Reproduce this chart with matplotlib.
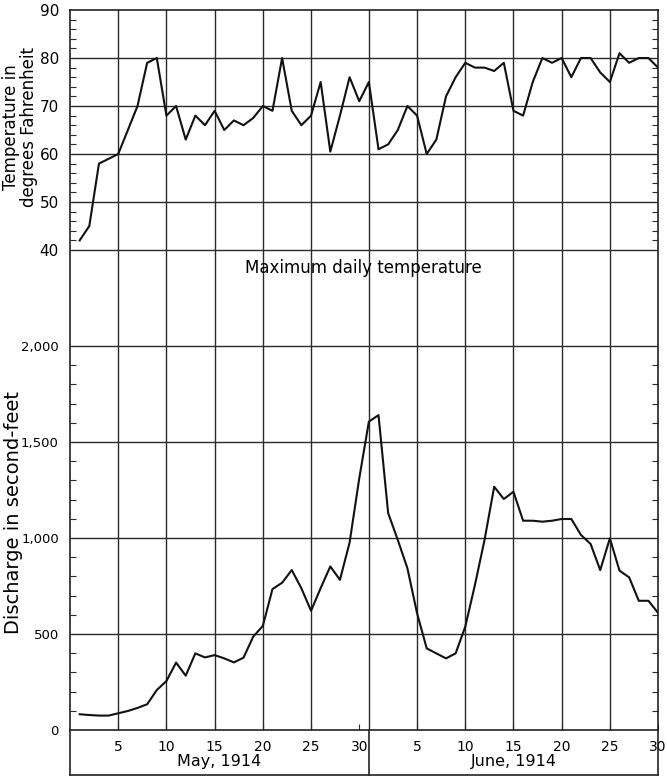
import numpy as np
import matplotlib.pyplot as plt

plt.rcParams['font.family'] = ['DejaVu Sans']

# day 1 = May 1, day 32 = June 1, day 61 = June 30
days = np.arange(1, 62)

# maximum daily temperature, degrees F
temperature = [42, 45, 58, 59, 60, 65, 70, 79, 80, 68,
               70, 63, 68, 66, 69, 65, 67, 66, 67.5, 70,
               69, 80, 69, 66, 68, 75, 60.5, 68, 76, 71,
               75, 61, 62, 65, 70, 68, 60, 63, 72, 76,
               79, 78, 78, 77.3, 79, 69, 68, 75, 80, 79,
               80, 76, 80, 80, 77, 75, 81, 79, 80, 80,
               78]

# discharge, second-feet
discharge = [82, 78, 75, 75, 87, 99, 115, 134, 208, 255,
             351, 283, 399, 378, 390, 373, 352, 377, 486, 542,
             734, 767, 833, 738, 621, 739, 852, 782, 976, 1310,
             1606, 1640, 1130, 990, 842, 608, 425, 399, 373, 399,
             538, 755, 990, 1267, 1203, 1241, 1090, 1090, 1085, 1090,
             1099, 1099, 1016, 969, 833, 998, 830, 795, 673, 673,
             610]

temp_ticks = [40, 50, 60, 70, 80, 90]
q_ticks = [0, 500, 1000, 1500, 2000]
q_labels = ['0', '500', '1,000', '1,500', '2,000']
x_ticks = [5, 10, 15, 20, 25, 30, 36, 41, 46, 51, 56, 61]
x_labels = ['5', '10', '15', '20', '25', '30', '5', '10', '15', '20', '25', '30']
grid_days = [5, 10, 15, 20, 25, 31, 36, 41, 46, 51, 56]

fig = plt.figure(figsize=(6.67, 7.77), dpi=100)
ax = fig.add_axes([0.105, 0.0605, 0.8816, 0.9266])
ax.set_xlim(0, 61)
ax.set_ylim(0, 3750)

axt = ax.twinx()
axt.set_ylim(-60, 90)

gc = '#2a2a2a'
for d in grid_days:
    ax.axvline(d, color=gc, lw=1.0, zorder=1)
for q in q_ticks[1:]:
    ax.axhline(q, color=gc, lw=1.0, zorder=1)
for t in temp_ticks[:-1]:
    axt.axhline(t, color=gc, lw=1.0, zorder=1)

ax.plot(days, discharge, color='#111111', lw=1.5, zorder=3)
axt.plot(days, temperature, color='#111111', lw=1.5, zorder=3)

# y ticks
ax.set_yticks(q_ticks)
ax.set_yticklabels(q_labels)
ax.set_yticks([q for q in range(100, 2000, 100) if q % 500], minor=True)
axt.set_yticks(temp_ticks)
axt.set_yticks([t for t in range(42, 90, 2) if t % 10], minor=True)
for a in (ax, axt):
    a.tick_params(axis='y', which='major', length=0, pad=8,
                  left=True, right=False, labelleft=True, labelright=False)
    a.tick_params(axis='y', which='minor', direction='in', length=4, width=0.8,
                  left=True, right=True, color=gc)
ax.tick_params(axis='y', which='major', labelsize=9.5)
axt.tick_params(axis='y', which='major', labelsize=11)

# x ticks
ax.set_xticks(x_ticks)
ax.set_xticklabels(x_labels)
ax.tick_params(axis='x', direction='in', length=4, width=0.8, pad=7,
               labelsize=10, color=gc)

for s in ax.spines.values():
    s.set_linewidth(1.2)
    s.set_color('#222222')
for s in axt.spines.values():
    s.set_visible(False)

# box under the axis holding the month names
tr = ax.get_xaxis_transform()
yb = -0.0625
for d in (0, 31, 61):
    ax.plot([d, d], [yb, 0], transform=tr, color='#222222', lw=1.2, clip_on=False)
ax.plot([0, 61], [yb, yb], transform=tr, color='#222222', lw=1.2, clip_on=False)
ax.text(15.5, -0.044, 'May, 1914', transform=tr, ha='center', va='center', fontsize=11.5)
ax.text(46, -0.044, 'June, 1914', transform=tr, ha='center', va='center', fontsize=11.5)

axt.text(30.4, 36.3, 'Maximum daily temperature', ha='center', va='center', fontsize=12)

fig.text(0.030, 0.836, 'Temperature in\ndegrees Fahrenheit', rotation=90,
         ha='center', va='center', fontsize=12, linespacing=0.95)
fig.text(0.020, 0.34, 'Discharge in second-feet', rotation=90,
         ha='center', va='center', fontsize=14)

fig.savefig('out.png', dpi=100)
